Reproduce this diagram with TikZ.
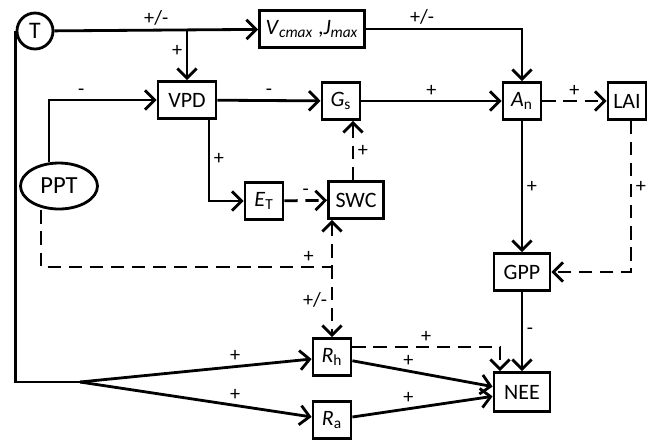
\documentclass[tikz,border=0pt]{standalone}
\usepackage{fontspec}
\setmainfont{Carlito}
\usetikzlibrary{arrows.meta,shapes.geometric}

\tikzset{
    box/.style={draw, line width=1.6pt, minimum width=0.76cm, minimum height=0.74cm, inner sep=1pt, font=\fontsize{12.5}{14}\selectfont},
    link/.style={line width=1.6pt, -{Straight Barb[length=5.5pt,width=11pt,line width=1.6pt]}},
    dlink/.style={link, dash pattern=on 7.5pt off 4.5pt},
    sign/.style={font=\fontsize{11.5}{13}\selectfont, inner sep=2pt},
}

\begin{document}
\begin{tikzpicture}[x=0.02cm, y=-0.02cm]
    \useasboundingbox (0,0) rectangle (656,441);
    \node [circle, draw, line width=1.6pt, minimum size=0.72cm, inner sep=0pt, font=\fontsize{13.5}{15}\selectfont] (T) at (35,31) {T};
    \node [ellipse, draw, line width=1.6pt, minimum width=1.54cm, minimum height=0.92cm, inner sep=0pt, font=\fontsize{14}{15}\selectfont] (PPT) at (59,186) {PPT};
    \node [box, minimum width=2.1cm] (Vc) at (312,29) {\textit{V}\textsubscript{\textit{cmax}} ,\textit{J}\textsubscript{\textit{max}}};
    \node [box, minimum width=1.16cm] (VPD) at (187,100) {VPD};
    \node [box] (Gs) at (341,101) {\textit{G}\textsubscript{s}};
    \node [box] (An) at (522,101) {\textit{A}\textsubscript{n}};
    \node [box] (LAI) at (627,101) {LAI};
    \node [box] (ET) at (264,201) {\textit{E}\textsubscript{T}};
    \node [box, minimum width=1.1cm] (SWC) at (356,200) {SWC};
    \node [box, minimum width=1.12cm] (GPP) at (522,272) {GPP};
    \node [box, minimum width=1.12cm, minimum height=0.78cm] (NEE) at (522,392) {NEE};
    \node [box] (Rh) at (332,357) {\textit{R}\textsubscript{h}};
    \node [box] (Ra) at (332,420) {\textit{R}\textsubscript{a}};
    \coordinate (br) at (80,382);
    \coordinate (sj) at (Rh |- 0,267);

    \draw [link] (T) -- node [sign, above] {+/-} (Vc);
    \draw [link] (VPD |- T) -- node [sign, left, pos=0.4] {+} (VPD);
    \draw [link] (Vc) -| node [sign, above, pos=0.18] {+/-} (An);
    \draw [link] ([xshift=-0.2cm]PPT.north) |- node [sign, above, pos=0.65] {-} (VPD);
    \draw [link] (VPD) -- node [sign, above] {-} (Gs);
    \draw [link] (Gs) -- node [sign, above] {+} (An);
    \draw [dlink] (An) -- node [sign, above] {+} (LAI);
    \draw [link] ([xshift=0.44cm]VPD.south) |- node [sign, right, pos=0.24] {+} (ET);
    \draw [dlink] (ET) -- node [sign, above] {-} (SWC);
    \draw [dlink] ([xshift=-0.06cm]SWC.north) -- node [sign, right] {+} ([xshift=-0.06cm]SWC.north |- Gs.south);
    \draw [link] (An) -- node [sign, right] {+} (GPP);
    \draw [dlink] ([xshift=0.08cm]LAI.south) |- node [sign, right, pos=0.22] {+} (GPP);
    \draw [dlink, -] ([xshift=-0.36cm]PPT.south) |- node [sign, above, pos=0.96] {+} (sj);
    \draw [dlink, {Straight Barb[length=5.5pt,width=11pt,line width=1.6pt]}-{Straight Barb[length=5.5pt,width=11pt,line width=1.6pt]}] (Rh |- SWC.south) -- node [sign, left, pos=0.68] {+/-} (Rh);
    \draw [line width=1.6pt] (T.west) -- (T.west |- br) -- (br);
    \draw [link] (br) -- node [sign, above, pos=0.67] {+} (Rh);
    \draw [link] (br) -- node [sign, above, pos=0.67] {+} (Ra);
    \draw [link] (Rh) -- node [sign, above, pos=0.4] {+} (NEE);
    \draw [link] (Ra) -- node [sign, above, pos=0.4] {+} (NEE);
    \draw [dlink] ([yshift=0.2cm]Rh.east) -| node [sign, above, pos=0.25] {+} ([xshift=-0.44cm]NEE.north);
    \draw [link] (GPP) -- node [sign, right] {-} (NEE);
\end{tikzpicture}
\end{document}
